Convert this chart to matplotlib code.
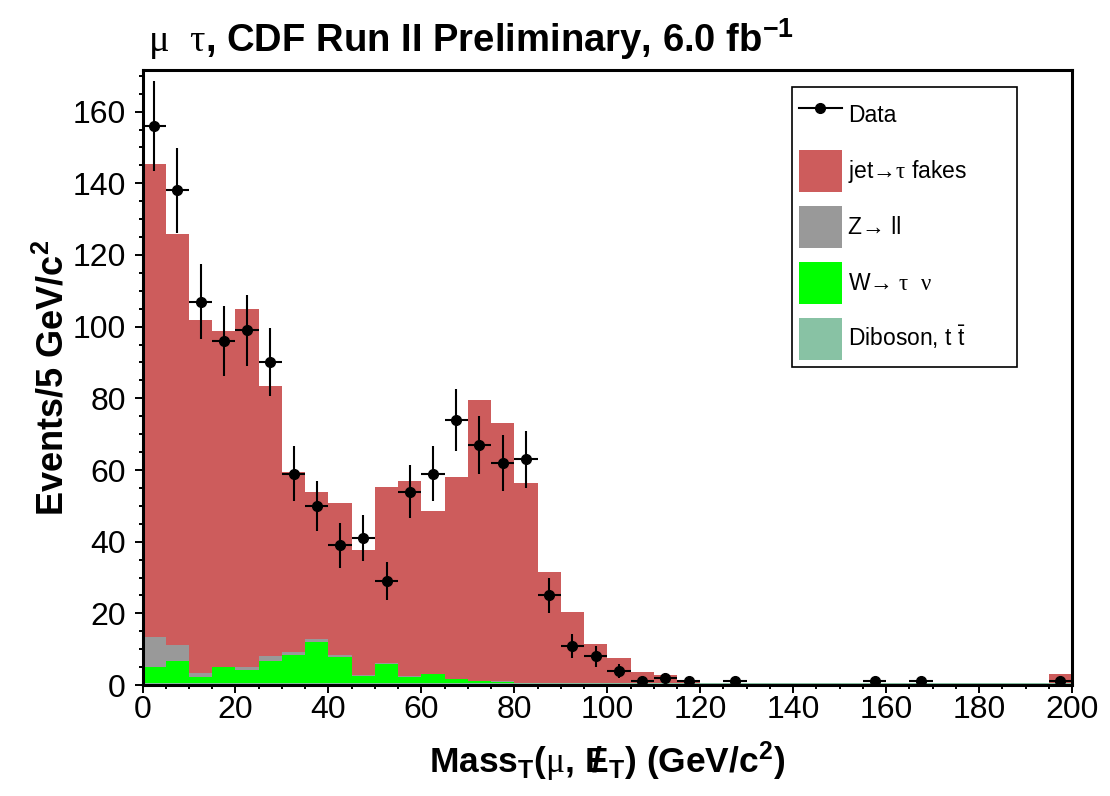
import matplotlib
matplotlib.use('Agg')
import matplotlib.pyplot as plt
from matplotlib.lines import Line2D
from matplotlib.patches import Patch
from matplotlib.ticker import MultipleLocator
import numpy as np

plt.rcParams['font.family'] = ['Liberation Sans', 'DejaVu Sans']
plt.rcParams['mathtext.fontset'] = 'custom'
plt.rcParams['mathtext.rm'] = 'Liberation Serif'
plt.rcParams['mathtext.bf'] = 'Liberation Sans:bold'
plt.rcParams['mathtext.sf'] = 'Liberation Sans'
plt.rcParams['mathtext.it'] = 'Liberation Sans:italic'

# 5 GeV bins from 0 to 200
bin_lo = np.arange(0, 200, 5)

fakes = [132.0, 114.6, 98.5, 93.8, 99.8, 75.2, 50.2, 41.0, 42.3, 34.9,
         49.0, 54.6, 45.4, 56.3, 78.3, 72.0, 55.8, 31.0, 19.7, 10.9,
         7.0, 3.1, 2.3, 0.4, 0.0, 0.0, 0.0, 0.0, 0.0, 0.0,
         0.0, 0.0, 0.0, 0.0, 0.0, 0.0, 0.0, 0.0, 0.0, 2.6]
z_ll = [8.4, 4.6, 1.0, 0.1, 0.9, 1.5, 0.8, 0.9, 0.5, 0.2,
        0.2, 0.2, 0.1, 0.1, 0.1, 0.1, 0.0, 0.0, 0.0, 0.0,
        0.0, 0.0, 0.0, 0.0, 0.0, 0.0, 0.0, 0.0, 0.0, 0.0,
        0.0, 0.0, 0.0, 0.0, 0.0, 0.0, 0.0, 0.0, 0.0, 0.0]
w_taunu = [4.4, 6.2, 1.8, 4.4, 3.7, 6.2, 7.9, 11.4, 7.4, 2.0,
           5.5, 1.7, 2.6, 1.2, 0.4, 0.3, 0.1, 0.0, 0.0, 0.0,
           0.0, 0.0, 0.0, 0.0, 0.0, 0.0, 0.0, 0.0, 0.0, 0.0,
           0.0, 0.0, 0.0, 0.0, 0.0, 0.0, 0.0, 0.0, 0.0, 0.0]
diboson = [0.5, 0.5, 0.5, 0.5, 0.5, 0.5, 0.5, 0.5, 0.5, 0.5,
           0.5, 0.5, 0.5, 0.5, 0.6, 0.6, 0.6, 0.6, 0.6, 0.6,
           0.6, 0.6, 0.6, 0.6, 0.6, 0.6, 0.6, 0.6, 0.6, 0.6,
           0.6, 0.6, 0.6, 0.6, 0.6, 0.6, 0.6, 0.6, 0.6, 0.6]

data_x = [2.5, 7.5, 12.5, 17.5, 22.5, 27.5, 32.5, 37.5, 42.5, 47.5,
          52.5, 57.5, 62.5, 67.5, 72.5, 77.5, 82.5, 87.5, 92.5, 97.5,
          102.5, 107.5, 112.5, 117.5, 127.5, 157.5, 167.5, 197.5]
data_n = [156, 138, 107, 96, 99, 90, 59, 50, 39, 41,
          29, 54, 59, 74, 67, 62, 63, 25, 11, 8,
          4, 1, 2, 1, 1, 1, 1, 1]

c_fake = '#cd5c5c'
c_zll = '#999999'
c_w = '#00ff00'
c_dib = '#88c2a4'

fig = plt.figure(figsize=(11.1, 7.96), dpi=100)
ax = fig.add_axes([0.1284, 0.1394, 0.8374, 0.7726])

b0 = np.zeros(len(bin_lo))
for vals, col in [(diboson, c_dib), (w_taunu, c_w), (z_ll, c_zll), (fakes, c_fake)]:
    ax.bar(bin_lo, vals, width=5, bottom=b0, align='edge', color=col, linewidth=0)
    b0 = b0 + np.array(vals)

ax.errorbar(data_x, data_n, xerr=2.5, yerr=np.sqrt(data_n), fmt='o', color='k',
            ms=7, elinewidth=1.5, capsize=0, zorder=5)

ax.set_xlim(0, 200)
ax.set_ylim(0, 171.6)
ax.xaxis.set_major_locator(MultipleLocator(20))
ax.xaxis.set_minor_locator(MultipleLocator(5))
ax.yaxis.set_major_locator(MultipleLocator(20))
ax.yaxis.set_minor_locator(MultipleLocator(5))
ax.tick_params(which='both', direction='out', top=False, right=False, width=1.4)
ax.tick_params(which='major', length=6, labelsize=23)
ax.tick_params(which='minor', length=3)
ax.tick_params(axis='y', pad=6)
ax.tick_params(axis='x', pad=1)
for s in ax.spines.values():
    s.set_linewidth(2.2)

ax.set_xlabel(r'Mass$_{\mathbf{T}}$($\mathrm{\mu}$, $\mathbf{E}\hspace{-0.56}\mathbf{/}\hspace{0.23}_{\mathbf{T}}$) (GeV/c$^{\mathbf{2}}$)',
              fontsize=25.5, fontweight='bold')
ax.xaxis.set_label_coords(0.5, -0.088)
ax.set_ylabel(r'Events/5 GeV/c$^{\mathbf{2}}$', fontsize=26, fontweight='bold')
ax.yaxis.set_label_coords(-0.076, 0.5)

fig.text(148 / 1110, 0.935, r'$\mathrm{\mu\ \ \tau}$, CDF Run II Preliminary, 6.0 fb$^{\mathbf{-1}}$',
         fontsize=27.5, fontweight='bold', va='baseline', ha='left')

handles = [Line2D([], [], color='k', marker='o', ms=7, lw=1.5),
           Patch(facecolor=c_fake), Patch(facecolor=c_zll),
           Patch(facecolor=c_w), Patch(facecolor=c_dib)]
labels = ['Data', r'jet→$\mathrm{\tau}$ fakes', 'Z→ ll',
          r'W→ $\mathrm{\tau}$  $\mathrm{\nu}$', r'Diboson, t $\mathsf{\bar{t}}$']
leg = ax.legend(handles, labels, loc='upper left', bbox_to_anchor=(0.699, 0.972, 0.242, 0.0),
                mode='expand', fontsize=16.5, frameon=True, fancybox=False,
                borderaxespad=0, borderpad=0.3, labelspacing=0.6,
                handlelength=1.85, handleheight=2.45, handletextpad=0.28)
leg.get_frame().set_edgecolor('black')
leg.get_frame().set_linewidth(1.2)
leg.get_frame().set_alpha(1)

fig.savefig('out.png', dpi=100)
